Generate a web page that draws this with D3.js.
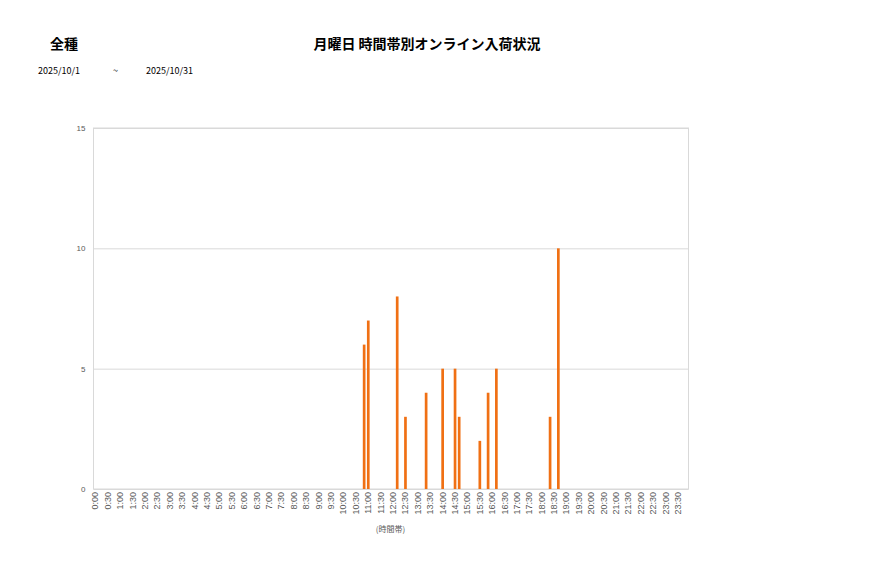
<!DOCTYPE html>
<html>
<head>
<meta charset="utf-8">
<script src="https://cdn.jsdelivr.net/npm/d3@7"></script>
<style>
  body { margin: 0; background: #fff; font-family: "Noto Sans CJK JP", "Noto Sans", sans-serif; }
  .grid line { stroke: #d9d9d9; }
  .tick text { fill: #595959; }
</style>
</head>
<body>
<svg width="877" height="578"></svg>
<script>
// 10-minute slots for the whole day
const slots = [];
for (let h = 0; h < 24; h++) {
  for (let m = 0; m < 60; m += 10) slots.push(h + ":" + (m === 0 ? "00" : m));
}
// only every 30 minutes gets a label
const tickLabels = slots.filter((d, i) => i % 3 === 0);

const barTimes  = ["10:50", "11:00", "12:10", "12:30", "13:20", "14:00", "14:30", "14:40", "15:30", "15:50", "16:10", "18:20", "18:40"];
const barCounts = [6, 7, 8, 3, 4, 5, 5, 3, 2, 4, 5, 3, 10];
const yTicks = [0, 5, 10, 15];

const titleText = "月曜日 時間帯別オンライン入荷状況";
const kindText = "全種";
const dateFrom = "2025/10/1";
const dateTo = "2025/10/31";
const xAxisTitle = "(時間帯)";

const margin = {top: 128, left: 93.5},
      width = 595, height = 361;

const svg = d3.select("svg");

svg.append("text").attr("x", 64).attr("y", 49).attr("text-anchor", "middle")
  .attr("font-size", 14).attr("font-weight", "bold").text(kindText);
svg.append("text").attr("x", 427).attr("y", 49).attr("text-anchor", "middle")
  .attr("font-size", 14).attr("font-weight", "bold").text(titleText);
svg.append("text").attr("x", 38).attr("y", 74).attr("font-size", 9).text(dateFrom);
svg.append("text").attr("x", 113).attr("y", 74).attr("font-size", 9).text("~");
svg.append("text").attr("x", 146).attr("y", 74).attr("font-size", 9).text(dateTo);

const g = svg.append("g").attr("transform", "translate(" + margin.left + "," + margin.top + ")");

const x = d3.scaleBand().domain(slots).range([0, width]).paddingInner(0.35).paddingOuter(0.175);
const y = d3.scaleLinear().domain([0, 15]).range([height, 0]);

// gridlines
g.append("g").attr("class", "grid")
  .call(d3.axisLeft(y).tickValues(yTicks).tickSize(-width).tickFormat(""))
  .call(s => s.select(".domain").remove());

// frame
g.append("rect").attr("width", width).attr("height", height)
  .attr("fill", "none").attr("stroke", "#d9d9d9");

// y labels
g.append("g")
  .call(d3.axisLeft(y).tickValues(yTicks).tickSize(0).tickPadding(8))
  .call(s => s.select(".domain").remove())
  .selectAll("text").attr("font-size", 8);

// x labels
g.append("g").attr("transform", "translate(0," + height + ")")
  .call(d3.axisBottom(x).tickValues(tickLabels).tickSize(0).tickPadding(0))
  .call(s => s.select(".domain").remove())
  .selectAll("text")
    .attr("font-size", 9)
    .attr("transform", "rotate(-90)")
    .attr("text-anchor", "end")
    .attr("dx", "-3")
    .attr("dy", "0.32em")
    .attr("x", 0).attr("y", 0);

g.append("text").attr("x", 297).attr("y", height + 43).attr("text-anchor", "middle")
  .attr("font-size", 8).attr("fill", "#595959").text(xAxisTitle);

g.selectAll(".bar")
  .data(barTimes.map((t, i) => ({t, v: barCounts[i]})))
  .enter().append("rect")
  .attr("class", "bar")
  .attr("x", d => x(d.t))
  .attr("width", x.bandwidth())
  .attr("y", d => y(d.v))
  .attr("height", d => height - y(d.v))
  .attr("fill", "#f07014");
</script>
</body>
</html>
